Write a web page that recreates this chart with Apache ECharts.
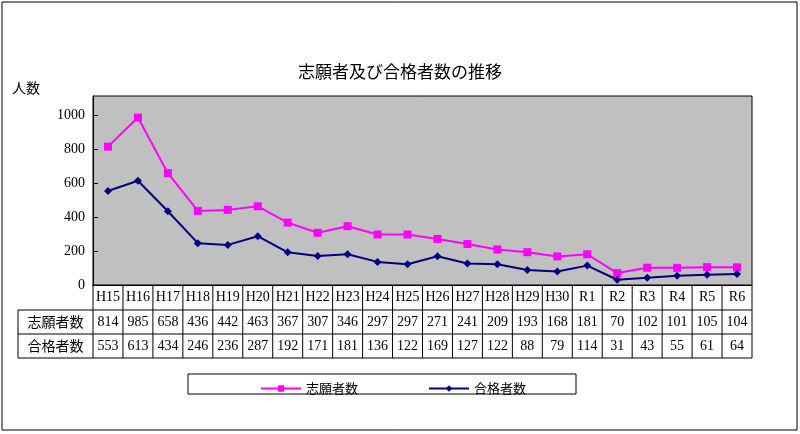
<!DOCTYPE html><html><head><meta charset="utf-8"><script src="https://cdn.jsdelivr.net/npm/echarts@6/dist/echarts.min.js"></script></head><body style="margin:0"><div id="c" style="width:800px;height:434px"></div><script>
const categories=['H15','H16','H17','H18','H19','H20','H21','H22','H23','H24','H25','H26','H27','H28','H29','H30','R1','R2','R3','R4','R5','R6'];
const applicants=[814,985,658,436,442,463,367,307,346,297,297,271,241,209,193,168,181,70,102,101,105,104];
const passed=[553,613,434,246,236,287,192,171,181,136,122,169,127,122,88,79,114,31,43,55,61,64];
const yTicks=[0,200,400,600,800,1000];
const F='"Noto Sans CJK JP"';
const L=93,R=752,T=96,B=285,rows=[285,310,334,358],tl=18;
const cw=(R-L)/categories.length;
const g=[];
g.push({type:'rect',shape:{x:2,y:2,width:795,height:428},style:{fill:null,stroke:'#000',lineWidth:1}});
g.push({type:'rect',shape:{x:188,y:374,width:388,height:20},style:{fill:'#fff',stroke:'#000',lineWidth:1}});
[310,334,358].forEach(y=>g.push({type:'line',shape:{x1:tl,y1:y,x2:R,y2:y},style:{stroke:'#000'}}));
g.push({type:'line',shape:{x1:tl,y1:310,x2:tl,y2:358},style:{stroke:'#000'}});
for(let i=0;i<=categories.length;i++){const x=L+i*cw;g.push({type:'line',shape:{x1:x,y1:285,x2:x,y2:358},style:{stroke:'#000'}});}
const rowData=[[null,categories],['志願者数',applicants],['合格者数',passed]];
rowData.forEach((r,ri)=>{const yc=(rows[ri]+rows[ri+1])/2;
 if(r[0])g.push({type:'text',style:{text:r[0],x:(tl+L)/2,y:yc,align:'center',verticalAlign:'middle',font:'14px '+F,fill:'#000'}});
 r[1].forEach((v,i)=>g.push({type:'text',style:{text:String(v),x:L+(i+.5)*cw,y:yc,align:'center',verticalAlign:'middle',font:'14px "Liberation Serif"',fill:'#000'}}));});
g.push({type:'text',style:{text:'人数',x:12,y:88,verticalAlign:'middle',font:'14px '+F,fill:'#000'}});
const c=echarts.init(document.getElementById('c'));
c.setOption({animation:false,backgroundColor:'#fff',
title:{text:'志願者及び合格者数の推移',left:'center',top:58,textStyle:{fontFamily:F,fontSize:17,fontWeight:'normal',color:'#000'}},
grid:{left:L,right:800-R,top:T,bottom:434-B,backgroundColor:'#c0c0c0',show:true,borderColor:'#000',borderWidth:1},
legend:{top:377,left:255,itemGap:70,itemWidth:40,itemHeight:8,textStyle:{fontFamily:F,fontSize:13,color:'#000'},data:['志願者数','合格者数']},
xAxis:{type:'category',data:categories,axisLabel:{show:false},axisTick:{show:false},axisLine:{lineStyle:{color:'#000'}}},
yAxis:{type:'value',min:0,max:1112,interval:200,splitLine:{show:false},axisLine:{show:true,lineStyle:{color:'#000'}},axisTick:{show:true,inside:true,lineStyle:{color:'#000'}},
 axisLabel:{showMaxLabel:false,fontFamily:'Liberation Serif',fontSize:14,color:'#000',formatter:v=>yTicks.includes(v)?v:''}},
series:[{name:'志願者数',type:'line',data:applicants,symbol:'rect',symbolSize:8,itemStyle:{color:'#ff00ff'},lineStyle:{color:'#ff00ff',width:2}},
{name:'合格者数',type:'line',data:passed,symbol:'diamond',symbolSize:8,itemStyle:{color:'#000080'},lineStyle:{color:'#000080',width:2}}],
graphic:g});
</script></body></html>
